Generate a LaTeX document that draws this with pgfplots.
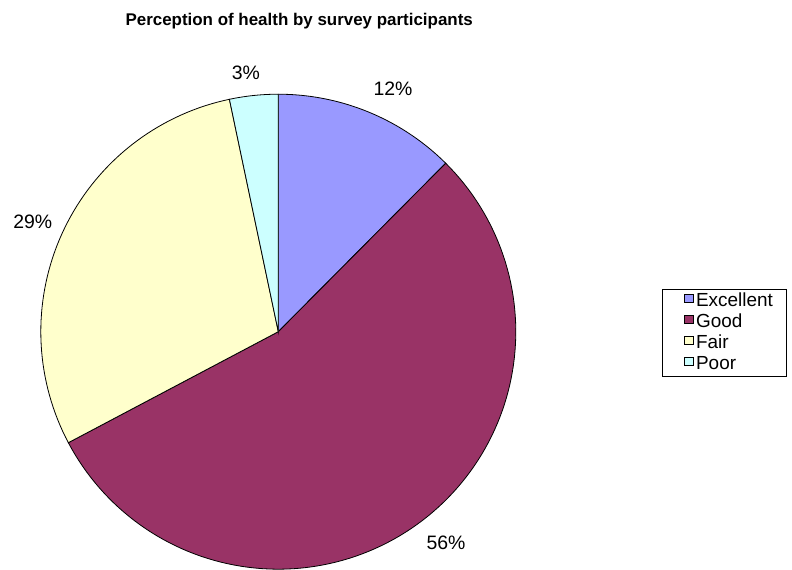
\documentclass[border=0pt]{standalone}
\usepackage{pgfplots}
\usepackage{pgfplotstable}
\pgfplotsset{compat=1.18}
\usepackage{fontspec}
\setmainfont{Liberation Sans}
\definecolor{cExc}{HTML}{9999FF}
\definecolor{cGood}{HTML}{993366}
\definecolor{cFair}{HTML}{FFFFCC}
\definecolor{cPoor}{HTML}{CCFFFF}
\pgfplotstableread{
name value
Excellent 12.45
Good 54.81
Fair 29.44
Poor 3.30
}\piedata
\pgfplotstablegetelem{0}{value}\of\piedata \let\vA\pgfplotsretval
\pgfplotstablegetelem{1}{value}\of\piedata \let\vB\pgfplotsretval
\pgfplotstablegetelem{2}{value}\of\piedata \let\vC\pgfplotsretval
\pgfplotstablegetelem{3}{value}\of\piedata \let\vD\pgfplotsretval
\pgfmathsetmacro\aA{90-3.6*\vA}
\pgfmathsetmacro\aB{\aA-3.6*\vB}
\pgfmathsetmacro\aC{\aB-3.6*\vC}
\pgfmathsetmacro\aD{\aC-3.6*\vD}
\def\cx{278.3}\def\cy{235.3}\def\rr{237.5}
\begin{document}
\begin{tikzpicture}
\begin{axis}[
  scale only axis, width=792bp, height=567bp,
  xmin=0, xmax=792, ymin=0, ymax=567,
  hide axis, clip=false,
  legend style={at={(axis cs:662,278)}, anchor=north west, draw=black, line width=0.6bp,
    fill=white, font=\fontsize{19}{21}\selectfont, inner xsep=5bp, inner ysep=3bp,
    row sep=3bp, nodes={inner sep=0pt, text height=14bp, text depth=4bp},
    /tikz/every even column/.append style={text width=85bp}},
  legend cell align=left,
  legend image code/.code={\path (-17bp,0bp) (11bp,0bp); \draw[#1, line width=0.6bp] (0bp,-1.5bp) rectangle (8.5bp,7bp);},
]
\path (axis cs:0,0) rectangle (axis cs:792,567);
\addplot[fill=cExc, draw=black, line width=0.8bp, domain=\aA:90, samples=40, variable=\t]
  ({\cx+\rr*cos(\t)},{\cy+\rr*sin(\t)}) -- (axis cs:\cx,\cy) -- cycle;
\addlegendentry{Excellent}
\addplot[fill=cGood, draw=black, line width=0.8bp, domain=\aB:\aA, samples=120, variable=\t]
  ({\cx+\rr*cos(\t)},{\cy+\rr*sin(\t)}) -- (axis cs:\cx,\cy) -- cycle;
\addlegendentry{Good}
\addplot[fill=cFair, draw=black, line width=0.8bp, domain=\aC:\aB, samples=70, variable=\t]
  ({\cx+\rr*cos(\t)},{\cy+\rr*sin(\t)}) -- (axis cs:\cx,\cy) -- cycle;
\addlegendentry{Fair}
\addplot[fill=cPoor, draw=black, line width=0.8bp, domain=\aD:\aC, samples=15, variable=\t]
  ({\cx+\rr*cos(\t)},{\cy+\rr*sin(\t)}) -- (axis cs:\cx,\cy) -- cycle;
\addlegendentry{Poor}
\node[anchor=base, font=\bfseries\fontsize{17}{19}\selectfont] at (axis cs:299.2,541.3) {Perception of health by survey participants};
\node[anchor=base, font=\fontsize{19.5}{21}\selectfont] at (axis cs:393,471) {12\%};
\node[anchor=base, font=\fontsize{19.5}{21}\selectfont] at (axis cs:446,17) {56\%};
\node[anchor=base, font=\fontsize{19.5}{21}\selectfont] at (axis cs:32.8,338.7) {29\%};
\node[anchor=base, font=\fontsize{19.5}{21}\selectfont] at (axis cs:245.8,487) {3\%};
\end{axis}
\end{tikzpicture}
\end{document}
